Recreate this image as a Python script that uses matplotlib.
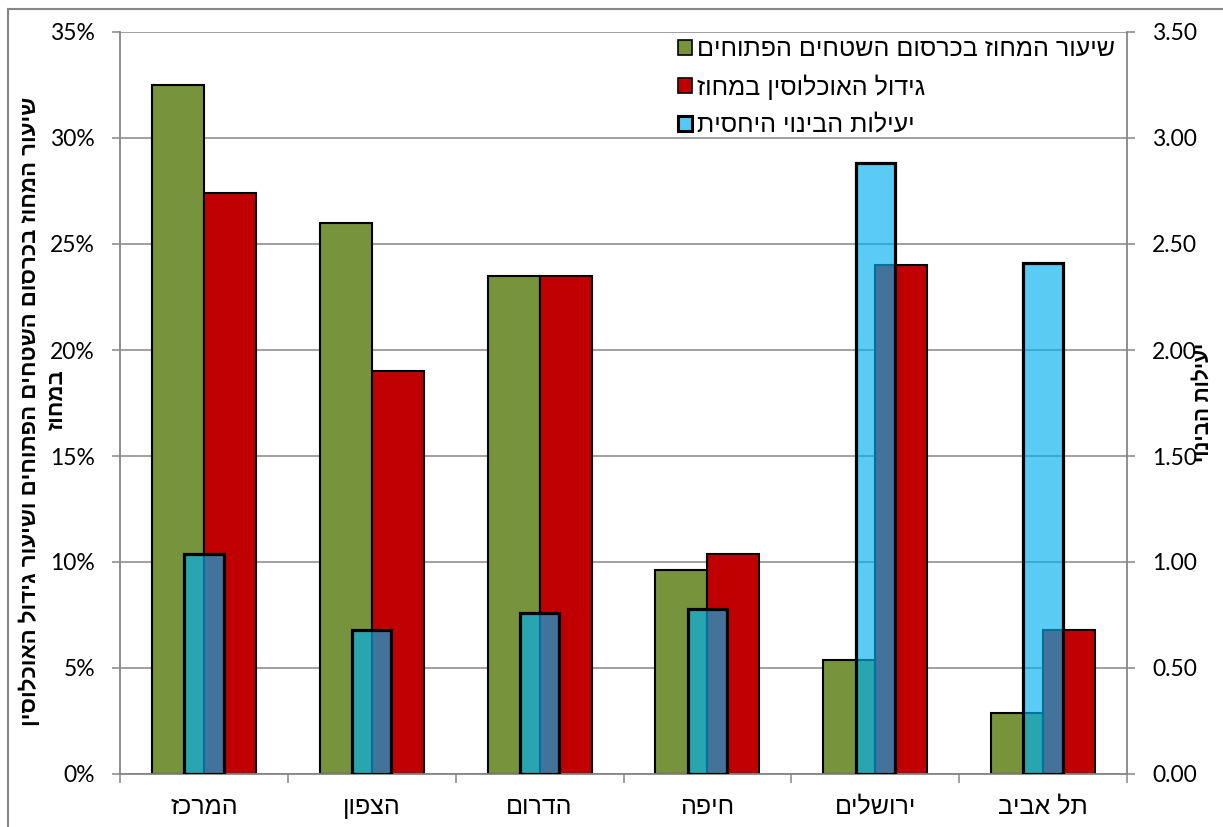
import matplotlib
matplotlib.use("Agg")
import matplotlib.pyplot as plt
from matplotlib.patches import Patch
from matplotlib.lines import Line2D
from matplotlib.ticker import FixedLocator, PercentFormatter, FormatStrFormatter
import numpy as np

# Districts (logical order) and series
districts = ["המרכז", "הצפון", "הדרום", "חיפה", "ירושלים", "תל אביב"]
open_space_share = [32.5, 26.0, 23.5, 9.6, 5.4, 2.9]      # % share of open-space erosion
population_growth = [27.4, 19.0, 23.5, 10.4, 24.0, 6.8]   # % population growth
building_efficiency = [1.04, 0.68, 0.76, 0.78, 2.88, 2.41]  # relative building efficiency

series_names = ["שיעור המחוז בכרסום השטחים הפתוחים",
                "גידול האוכלוסין במחוז",
                "יעילות הבינוי היחסית"]
left_label_lines = ["שיעור המחוז בכרסום השטחים הפתוחים ושיעור גידול האוכלוסין", "במחוז"]
right_label = "יעילות הבינוי"


def vis(s):
    """Hebrew text in visual (left-to-right drawing) order."""
    return s[::-1]


GREEN = "#77933C"
RED = "#C00000"
BLUE = "#00B0F0"
GRID = "#868686"
HEB = ["Liberation Sans", "DejaVu Sans"]
NUM = ["Lato", "DejaVu Sans"]
FS_HEB = 18
FS_NUM = 16.5

W, H = 1223, 827
fig = plt.figure(figsize=(W / 100, H / 100), dpi=100)
ax = fig.add_axes([120 / W, 1 - 774 / H, (1127 - 120) / W, (774 - 32) / H])
ax2 = ax.twinx()

x = np.arange(len(districts))
bw = 0.31
ax.bar(x - bw / 2, open_space_share, bw, color=GREEN, edgecolor="black", linewidth=1.5, zorder=2)
ax.bar(x + bw / 2, population_growth, bw, color=RED, edgecolor="black", linewidth=1.5, zorder=2)
ax2.bar(x, building_efficiency, 0.235, color=BLUE, alpha=0.65, edgecolor="none", zorder=2)
ax2.bar(x, building_efficiency, 0.235, facecolor="none", edgecolor="black", linewidth=2.3, zorder=3)

ax.set_xlim(-0.5, len(districts) - 0.5)
ax.set_ylim(0, 35)
ax2.set_ylim(0, 3.5)

ax.set_yticks(np.arange(0, 36, 5))
ax.yaxis.set_major_formatter(PercentFormatter(decimals=0))
ax2.set_yticks(np.arange(0, 3.51, 0.5))
ax2.yaxis.set_major_formatter(FormatStrFormatter("%.2f"))

ax.set_axisbelow(True)
ax.grid(axis="y", color=GRID, linewidth=1.1)
ax.grid(axis="x", visible=False)

ax.set_xticks(x)
ax.set_xticklabels([vis(d) for d in districts], family=HEB, fontsize=FS_HEB)
ax.xaxis.set_minor_locator(FixedLocator(np.arange(-0.5, len(districts), 1.0)))
ax.tick_params(axis="x", which="major", length=0, pad=15)
ax.tick_params(axis="x", which="minor", length=6.5, width=1.1, color=GRID, direction="out")
ax.tick_params(axis="y", length=6, width=1.1, color=GRID, direction="out", pad=12, labelsize=FS_NUM)
ax2.tick_params(axis="y", length=6, width=1.1, color=GRID, direction="out", pad=12, labelsize=FS_NUM)
for lab in ax.get_yticklabels() + ax2.get_yticklabels():
    lab.set_family(NUM)

for a in (ax, ax2):
    for side in ("left", "right", "bottom"):
        a.spines[side].set_color(GRID)
        a.spines[side].set_linewidth(1.3)
    a.spines["top"].set_visible(False)
ax.spines["right"].set_visible(False)
ax2.spines["left"].set_visible(False)
ax2.spines["bottom"].set_visible(False)

# Axis titles
fig.text(30 / W, 1 - 411 / H, vis(left_label_lines[0]), rotation=90, ha="center", va="center",
         family=HEB, fontsize=16, fontweight="bold")
fig.text(57 / W, 1 - 400 / H, vis(left_label_lines[1]), rotation=90, ha="center", va="center",
         family=HEB, fontsize=16, fontweight="bold")
fig.text(1203 / W, 1 - 402 / H, vis(right_label), rotation=90, ha="center", va="center",
         family=HEB, fontsize=15, fontweight="bold")

# Legend
handles = [
    Patch(facecolor=GREEN, edgecolor="black", linewidth=1.2),
    Patch(facecolor=RED, edgecolor="black", linewidth=1.2),
    Patch(facecolor="#56C8F5", edgecolor="black", linewidth=2.2),
]
leg = ax2.legend(handles, [vis(s) for s in series_names], loc="upper left",
                 bbox_to_anchor=(678 / W, 1 - 37 / H), bbox_transform=fig.transFigure,
                 frameon=False, prop={"family": HEB, "size": FS_HEB},
                 handlelength=0.55, handleheight=0.55, handletextpad=0.2,
                 labelspacing=0.53, borderpad=0, borderaxespad=0)

# Outer chart frame
fig.add_artist(Line2D([8 / W, 8 / W], [0, 1 - 9 / H], color=GRID, linewidth=1.5,
                      transform=fig.transFigure))
fig.add_artist(Line2D([8 / W, 1], [1 - 9 / H, 1 - 9 / H], color=GRID, linewidth=1.5,
                      transform=fig.transFigure))

fig.savefig("out.png", dpi=100, facecolor="white")
